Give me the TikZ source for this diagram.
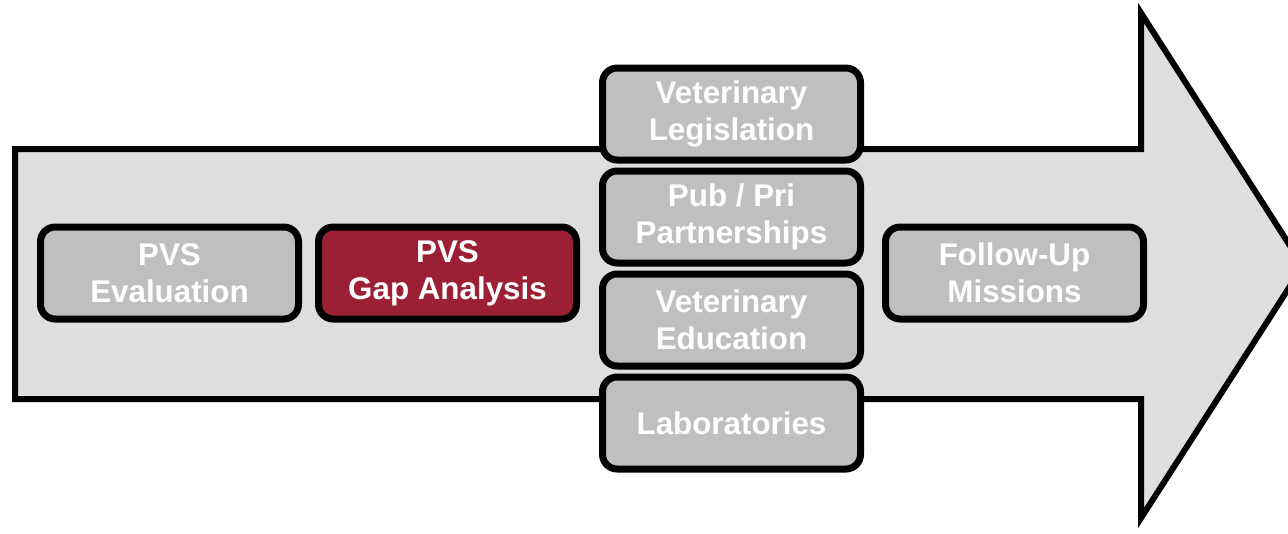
\documentclass[tikz,border=0pt]{standalone}
\usepackage{fontspec}
\setmainfont{Liberation Sans}
\usetikzlibrary{positioning}
\definecolor{boxgray}{RGB}{191,191,191}
\definecolor{gapred}{RGB}{155,32,52}
\definecolor{arrowfill}{RGB}{222,222,222}
\tikzset{
    step box/.style = {
        draw,
        line width=5.25pt,
        rounded corners=11pt,
        fill = boxgray,
        text = white,
        font = \fontsize{23.5}{27.5}\selectfont\bfseries,
        align = center,
        inner sep = 0pt,
        outer sep = 0pt,
        minimum width = 193.5pt,
        minimum height = 69pt,
        },
    current box/.style = {
        fill = gapred,
        },
    big arrow/.style = {
        draw,
        line width=4.5pt,
        line join=miter,
        fill = arrowfill,
        },
}

\begin{document}
\begin{tikzpicture}[x=0.75pt, y=-0.75pt, node distance=15pt]
            \useasboundingbox (0,0) rectangle (1288,533);
            \clip (0,0) rectangle (1288,533);

            % the long arrow behind the steps
            \draw[big arrow] (15,149) -- (1141,149) -- (1141,13) -- (1303,266)
                -- (1141,518) -- (1141,399) -- (15,399) -- cycle;

            \node[step box] (eval) at (169.5,273) {PVS\\Evaluation};
            \node[step box, current box, right=of eval] (gap) {PVS\\Gap Analysis};

            % column of the four sectors
            \node[step box] (pubpri) at (731.5,217) {Pub / Pri\\Partnerships};
            \node[step box, above=8.25pt of pubpri] (legis) {Veterinary\\Legislation};
            \node[step box, below=8.25pt of pubpri] (educ) {Veterinary\\Education};
            \node[step box, below=8.25pt of educ] (labs) {Laboratories};

            \node[step box] (follow) at (1014.5,273) {Follow-Up\\Missions};
        \end{tikzpicture}
\end{document}
